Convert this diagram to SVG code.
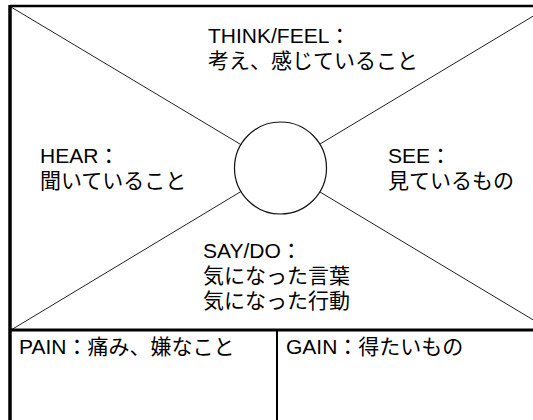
<svg xmlns="http://www.w3.org/2000/svg" width="533" height="420" viewBox="0 0 533 420">
  <style>
    .lbl { font-family: "Liberation Sans", "Noto Sans CJK JP", sans-serif; font-size: 21px; fill: #000; }
    .diag { stroke: #222; stroke-width: 1; fill: none; }
    .frame { stroke: #000; fill: none; }
  </style>
  <rect x="0" y="0" width="533" height="420" fill="#fff"/>
  <g id="connectors">
    <line class="diag" x1="11" y1="7" x2="280" y2="168"/>
    <line class="diag" x1="550" y1="6" x2="280" y2="168"/>
    <line class="diag" x1="11" y1="330" x2="280" y2="168"/>
    <line class="diag" x1="550" y1="330" x2="280" y2="168"/>
  </g>
  <g id="frame">
    <line class="frame" x1="10" y1="6" x2="533" y2="6" stroke-width="2.5"/>
    <line class="frame" x1="10" y1="5" x2="10" y2="420" stroke-width="3.5"/>
    <line class="frame" x1="10" y1="330" x2="533" y2="330" stroke-width="3"/>
    <line class="frame" x1="277" y1="330" x2="277" y2="420" stroke-width="2"/>
  </g>
  <g id="center">
    <circle cx="280.5" cy="168" r="46" fill="#fff" stroke="#111" stroke-width="1.2"/>
  </g>
  <g id="think-feel">
    <text class="lbl" x="208" y="43">THINK/FEEL：</text>
    <text class="lbl" x="208" y="68">考え、感じていること</text>
  </g>
  <g id="hear">
    <text class="lbl" x="40" y="163">HEAR：</text>
    <text class="lbl" x="40" y="188">聞いていること</text>
  </g>
  <g id="see">
    <text class="lbl" x="388" y="163">SEE：</text>
    <text class="lbl" x="388" y="188">見ているもの</text>
  </g>
  <g id="say-do">
    <text class="lbl" x="203" y="258">SAY/DO：</text>
    <text class="lbl" x="203" y="283">気になった言葉</text>
    <text class="lbl" x="203" y="308">気になった行動</text>
  </g>
  <g id="pain">
    <text class="lbl" x="19" y="354">PAIN：痛み、嫌なこと</text>
  </g>
  <g id="gain">
    <text class="lbl" x="286" y="354">GAIN：得たいもの</text>
  </g>
</svg>
